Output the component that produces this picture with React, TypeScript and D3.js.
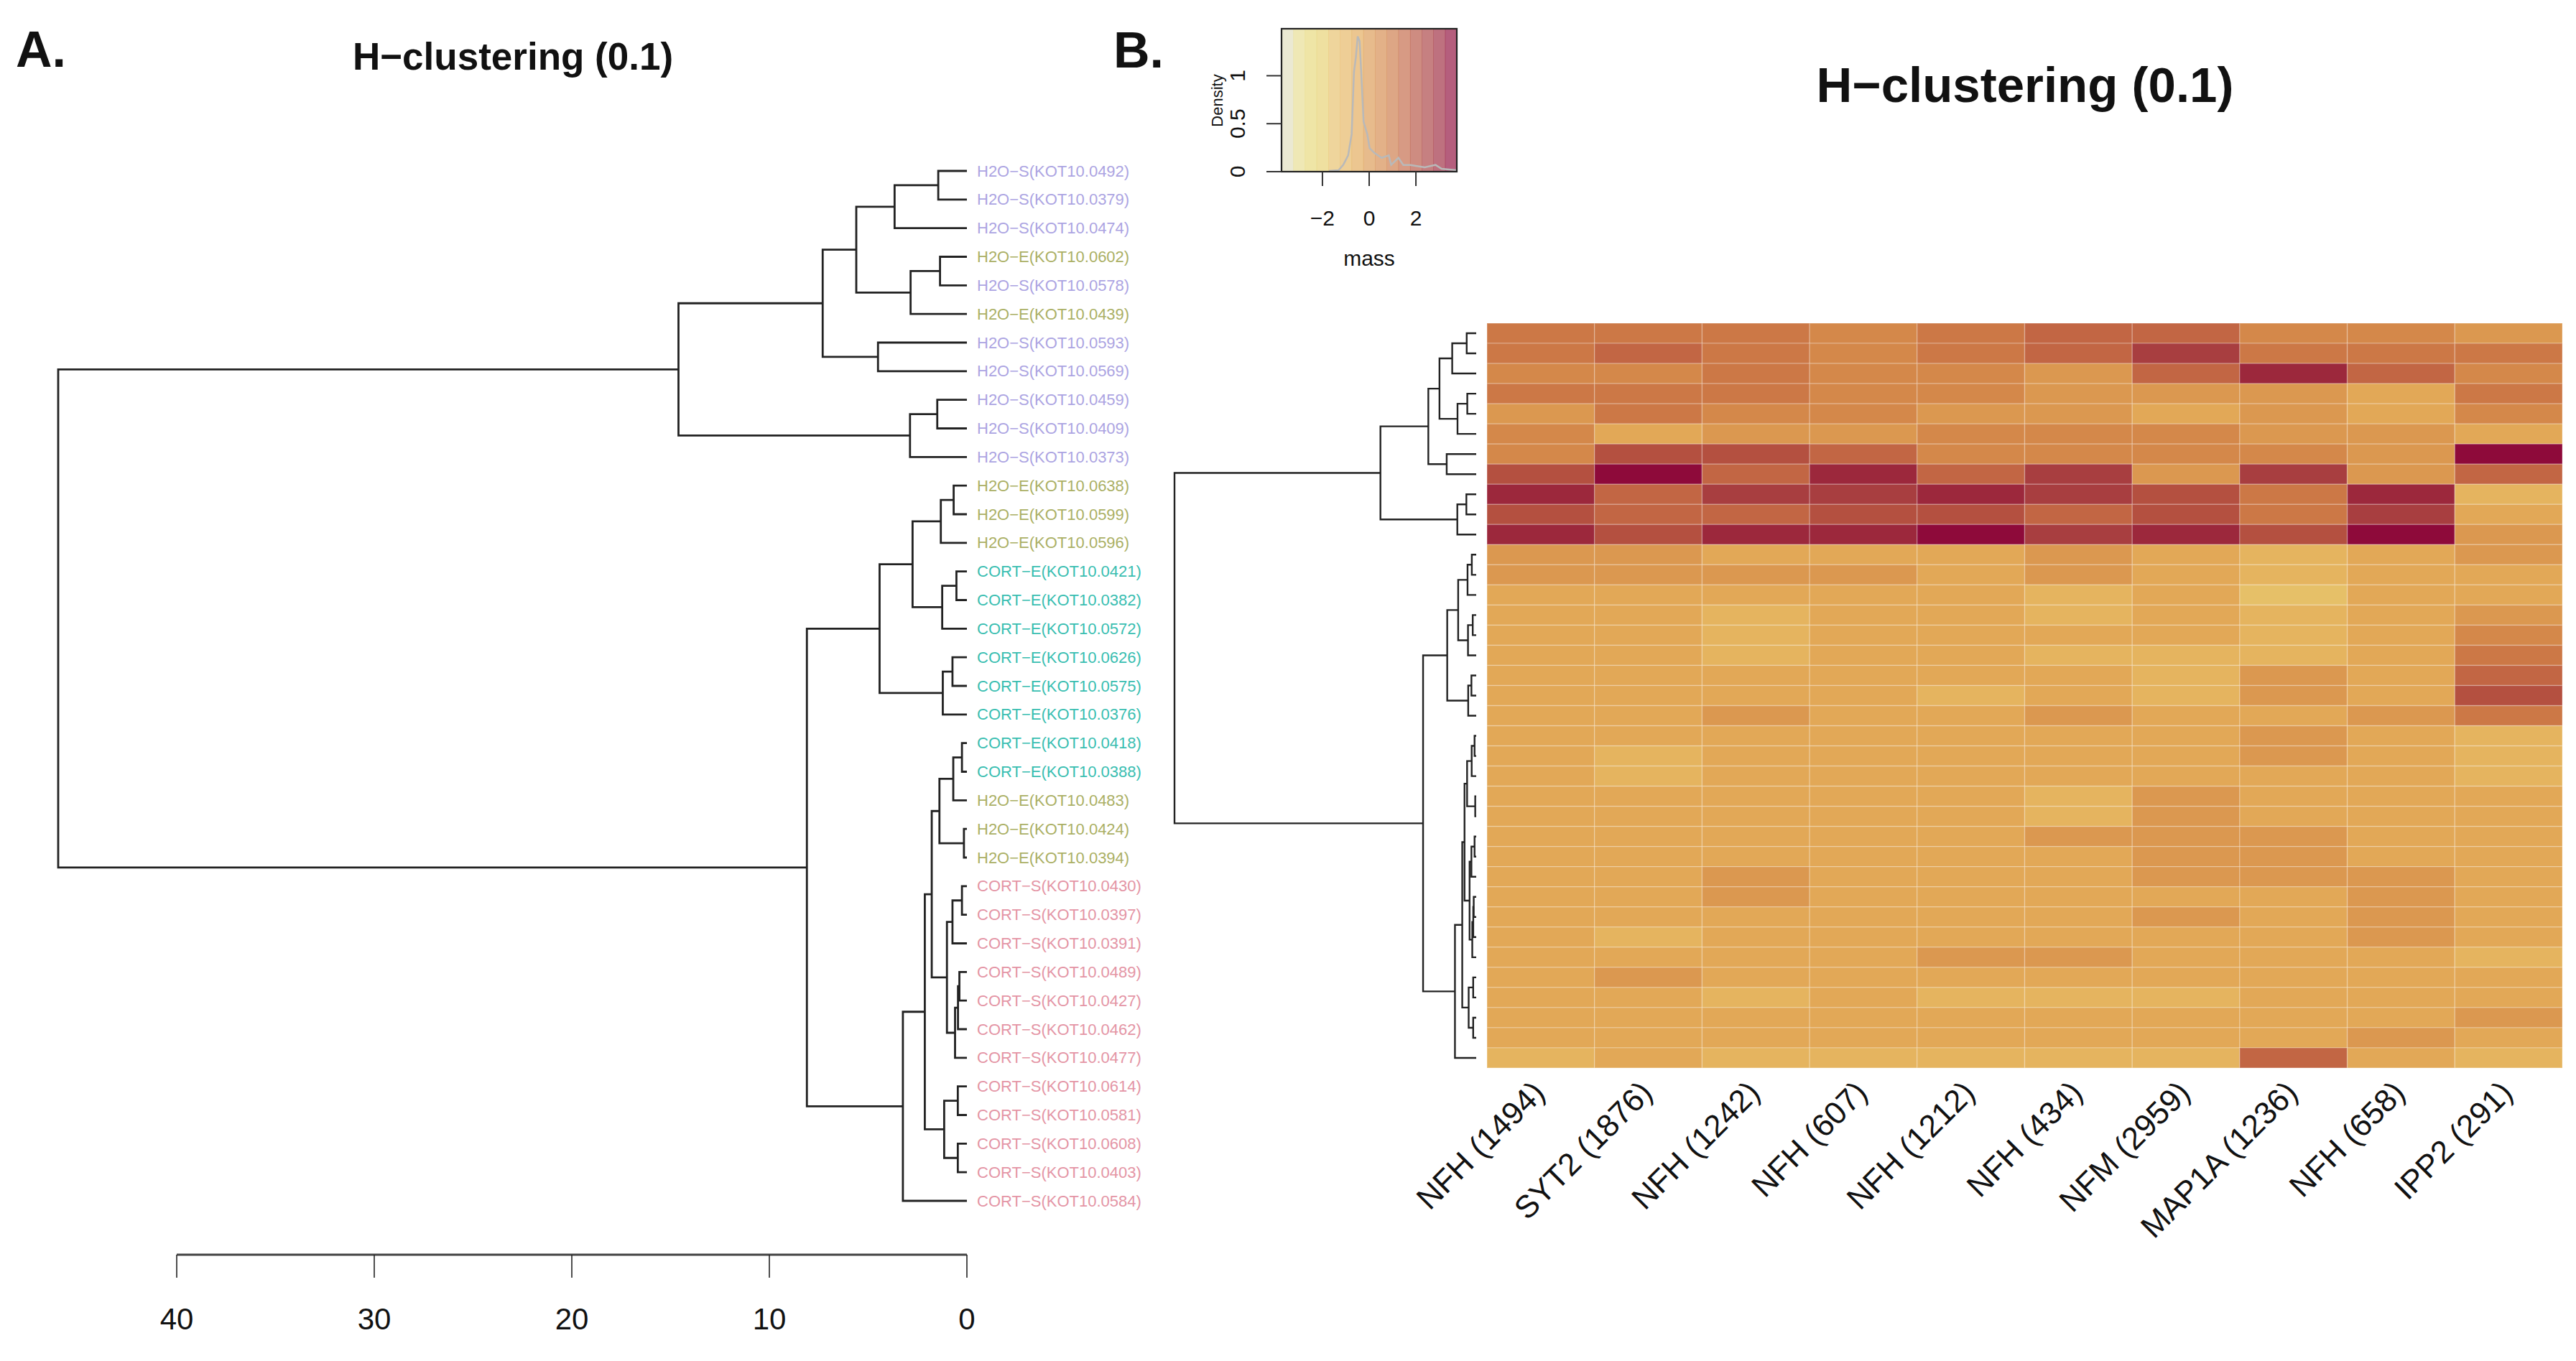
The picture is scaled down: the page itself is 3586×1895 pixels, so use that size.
import React from "react";
import * as d3 from "d3";

const W = 3586;
const H = 1895;
const FONT = "'Liberation Sans', Arial, Helvetica, sans-serif";

// ---------- Panel A : sample dendrogram ----------
const leafLabels = [
  "H2O−S(KOT10.0492)", "H2O−S(KOT10.0379)", "H2O−S(KOT10.0474)", "H2O−E(KOT10.0602)",
  "H2O−S(KOT10.0578)", "H2O−E(KOT10.0439)", "H2O−S(KOT10.0593)", "H2O−S(KOT10.0569)",
  "H2O−S(KOT10.0459)", "H2O−S(KOT10.0409)", "H2O−S(KOT10.0373)", "H2O−E(KOT10.0638)",
  "H2O−E(KOT10.0599)", "H2O−E(KOT10.0596)", "CORT−E(KOT10.0421)", "CORT−E(KOT10.0382)",
  "CORT−E(KOT10.0572)", "CORT−E(KOT10.0626)", "CORT−E(KOT10.0575)", "CORT−E(KOT10.0376)",
  "CORT−E(KOT10.0418)", "CORT−E(KOT10.0388)", "H2O−E(KOT10.0483)", "H2O−E(KOT10.0424)",
  "H2O−E(KOT10.0394)", "CORT−S(KOT10.0430)", "CORT−S(KOT10.0397)", "CORT−S(KOT10.0391)",
  "CORT−S(KOT10.0489)", "CORT−S(KOT10.0427)", "CORT−S(KOT10.0462)", "CORT−S(KOT10.0477)",
  "CORT−S(KOT10.0614)", "CORT−S(KOT10.0581)", "CORT−S(KOT10.0608)", "CORT−S(KOT10.0403)",
  "CORT−S(KOT10.0584)",
];

const groupNames = ["CORT−S", "H2O−E", "CORT−E", "H2O−S"];
const groupColors = ["#E495A5", "#ABB065", "#39BEB1", "#ACA4E2"];

// hclust-style merges: negative = leaf (1-based, in plotted order), positive = earlier merge
const merges: [number, number, number][] = [
  [-1, -2, 1.45], [1, -3, 3.66], [-4, -5, 1.36], [3, -6, 2.85], [2, 4, 5.6],
  [-7, -8, 4.5], [5, 6, 7.3], [-9, -10, 1.5], [8, -11, 2.88], [7, 9, 14.6],
  [-12, -13, 0.67], [11, -14, 1.32], [-15, -16, 0.53], [13, -17, 1.25], [12, 14, 2.75],
  [-18, -19, 0.73], [16, -20, 1.22], [15, 17, 4.42], [-21, -22, 0.25], [19, -23, 0.69],
  [-24, -25, 0.15], [20, 21, 1.39], [-26, -27, 0.25], [23, -28, 0.73], [-29, -30, 0.38],
  [25, -31, 0.45], [26, -32, 0.6], [24, 27, 1.01], [22, 28, 1.78], [-33, -34, 0.46],
  [-35, -36, 0.46], [30, 31, 1.15], [29, 32, 2.13], [33, -37, 3.24], [18, 34, 8.1],
  [10, 35, 46.0],
];

const distTicks = [40, 30, 20, 10, 0];

// ---------- Panel B : heatmap ----------
const geneLabels = [
  "NFH (1494)", "SYT2 (1876)", "NFH (1242)", "NFH (607)", "NFH (1212)",
  "NFH (434)", "NFM (2959)", "MAP1A (1236)", "NFH (658)", "IPP2 (291)",
];

const heatRows: number[][] = [
  [1.0, 1.0, 1.0, 0.5, 1.0, 1.5, 1.5, 0.5, 0.5, 0.0],
  [1.0, 1.5, 1.0, 0.5, 1.0, 1.5, 2.5, 1.0, 1.0, 1.0],
  [0.5, 0.5, 1.0, 0.5, 0.5, 0.0, 1.5, 3.0, 1.5, 0.5],
  [1.0, 1.0, 1.0, 0.5, 0.5, 0.0, 0.0, 0.0, -0.5, 1.0],
  [0.0, 1.0, 0.5, 0.5, 0.0, 0.0, -0.5, 0.0, -0.5, 0.5],
  [0.5, -0.5, 0.0, 0.0, 0.5, 0.5, 0.5, 0.0, 0.0, -0.5],
  [0.5, 2.0, 2.0, 1.5, 0.5, 0.5, 0.5, 0.5, 0.0, 3.5],
  [2.0, 3.5, 1.5, 3.0, 1.5, 2.5, 0.0, 2.5, 0.0, 1.5],
  [3.0, 1.5, 2.5, 2.5, 3.0, 2.5, 2.0, 1.0, 3.0, -1.0],
  [2.0, 1.5, 1.5, 2.0, 2.0, 1.5, 2.0, 1.0, 2.5, -0.5],
  [3.0, 2.0, 3.0, 3.0, 3.5, 2.5, 3.0, 2.0, 3.5, 0.0],
  [0.0, 0.0, -0.5, -0.5, -0.5, 0.0, -0.5, -1.0, -0.5, 0.0],
  [0.0, 0.0, 0.0, 0.0, -0.5, 0.0, -0.5, -1.0, -0.5, -0.5],
  [-0.5, -0.5, -0.5, -0.5, -0.5, -1.0, -0.5, -1.5, -0.5, -0.5],
  [-0.5, -0.5, -1.0, -0.5, -0.5, -1.0, -0.5, -1.0, -0.5, 0.0],
  [-0.5, -0.5, -1.0, -0.5, -0.5, -0.5, -0.5, -1.0, -0.5, 0.5],
  [-0.5, -0.5, -1.0, -0.5, -0.5, -1.0, -1.0, -1.0, -0.5, 1.0],
  [-0.5, -0.5, -0.5, -0.5, -0.5, -0.5, -1.0, 0.0, -0.5, 1.5],
  [-0.5, -0.5, -0.5, -0.5, -1.0, -0.5, -1.0, 0.0, -0.5, 2.0],
  [-0.5, -0.5, 0.0, -0.5, -0.5, 0.0, -0.5, -0.5, 0.0, 1.0],
  [-0.5, -0.5, -0.5, -0.5, -0.5, -0.5, -0.5, 0.0, -0.5, -1.0],
  [-0.5, -1.0, -0.5, -0.5, -0.5, -0.5, -0.5, 0.0, -0.5, -1.0],
  [-0.5, -1.0, -0.5, -0.5, -0.5, -0.5, -0.5, -0.5, -0.5, -1.0],
  [-0.5, -0.5, -0.5, -0.5, -0.5, -1.0, 0.0, -0.5, -0.5, -0.5],
  [-0.5, -0.5, -0.5, -0.5, -0.5, -1.0, 0.0, -0.5, -0.5, -0.5],
  [-0.5, -0.5, -0.5, -0.5, -0.5, 0.0, 0.0, 0.0, -0.5, -0.5],
  [-0.5, -0.5, -0.5, -0.5, -0.5, -0.5, 0.0, 0.0, -0.5, -0.5],
  [-0.5, -0.5, 0.0, -0.5, -0.5, -0.5, 0.0, 0.0, 0.0, -0.5],
  [-0.5, -0.5, 0.0, -0.5, -0.5, -0.5, -0.5, -0.5, 0.0, -0.5],
  [-0.5, -0.5, -0.5, -0.5, -0.5, -0.5, 0.0, -0.5, 0.0, -0.5],
  [-0.5, -1.0, -0.5, -0.5, -0.5, -0.5, -0.5, -0.5, 0.0, -0.5],
  [-0.5, -0.5, -0.5, -0.5, 0.0, 0.0, -0.5, -0.5, -0.5, -1.0],
  [-0.5, 0.0, -0.5, -0.5, -0.5, -0.5, -0.5, -0.5, -0.5, -0.5],
  [-0.5, -0.5, -1.0, -0.5, -1.0, -1.0, -1.0, -0.5, -0.5, -0.5],
  [-0.5, -0.5, -0.5, -0.5, -0.5, -0.5, -0.5, -0.5, -0.5, 0.0],
  [-0.5, -0.5, -0.5, -0.5, -0.5, -0.5, -0.5, -0.5, 0.0, -0.5],
  [-1.0, -0.5, -1.0, -1.0, -1.0, -1.0, -1.0, 1.5, -0.5, -1.0],
];

const heatPalette = [
  "#e1debc", "#e7dc8f", "#e7d878", "#e7d06f", "#e6c068", "#e5b45f", "#e2a857", "#db9850",
  "#d4884a", "#cc7846", "#c26644", "#b45040", "#a83e40", "#9c283c", "#8e0a3a",
];
const keyDomain: [number, number] = [-3.75, 3.75];
const keyXTicks = [-2, 0, 2];
const keyYTicks = [0, 0.5, 1];
const densityX = [-1.72, -1.31, -1.11, -0.9, -0.75, -0.65, -0.57, -0.49, -0.41, -0.34, -0.24, -0.08, 0.02, 0.23, 0.53, 0.84, 0.94, 1.25, 1.46, 1.76, 2.38, 2.84, 3.1, 3.74];
const densityY = [0.007, 0.015, 0.07, 0.17, 0.39, 1.04, 1.19, 1.41, 1.36, 1.04, 0.52, 0.39, 0.245, 0.194, 0.144, 0.17, 0.07, 0.144, 0.07, 0.07, 0.045, 0.07, 0.03, 0.015];

type End = { p: number; h: number };
function buildTree(ms: [number, number, number][]) {
  const pos: number[] = [];
  const hgt: number[] = [];
  const segs: { a: End; b: End; h: number }[] = [];
  const get = (c: number): End => (c < 0 ? { p: -c - 1, h: 0 } : { p: pos[c - 1], h: hgt[c - 1] });
  ms.forEach(([a, b, h], k) => {
    const A = get(a);
    const B = get(b);
    pos[k] = (A.p + B.p) / 2;
    hgt[k] = h;
    segs.push({ a: A, b: B, h });
  });
  return segs;
}

export default function App() {
  const segs = buildTree(merges);
  const n = leafLabels.length;

  // panel A scales
  const xA = d3.scaleLinear().domain([0, 40]).range([1346, 246]);
  const yA = d3.scaleLinear().domain([0, n - 1]).range([238, 1672]);
  const groupColor = d3.scaleOrdinal<string, string>().domain(groupNames).range(groupColors);

  // panel B scales
  const xH = d3.scaleBand<number>().domain(d3.range(geneLabels.length)).range([2070, 3567]);
  const yH = d3.scaleBand<number>().domain(d3.range(heatRows.length)).range([450, 1487]);
  const xD = d3.scaleLinear().domain([0, 46]).range([2055, 1635]);
  const yD = (p: number) => (yH(0) as number) + yH.bandwidth() * (p + 0.5);
  const color = d3.scaleQuantize<string>().domain(keyDomain).range(heatPalette);

  // key scales
  const kx = d3.scaleLinear().domain(keyDomain).range([1784, 2028]);
  const ky = d3.scaleLinear().domain([0, 1.49]).range([239, 40]);
  const binW = (keyDomain[1] - keyDomain[0]) / heatPalette.length;
  const densLine = d3
    .line<number>()
    .x((_, i) => kx(densityX[i]))
    .y((d) => ky(d));

  const treePath = (s: { a: End; b: End; h: number }, xs: (v: number) => number, ys: (v: number) => number) =>
    `M${xs(s.a.h)},${ys(s.a.p)}H${xs(s.h)}V${ys(s.b.p)}H${xs(s.b.h)}`;

  return (
    <svg
      width={W}
      height={H}
      viewBox={`0 0 ${W} ${H}`}
      style={{ position: "absolute", left: 0, top: 0, background: "#fff" }}
      fontFamily={FONT}
    >
      <rect x={0} y={0} width={W} height={H} fill="#fff" />

      {/* ---------- Panel A ---------- */}
      <text x={22} y={93} fontSize={70} fontWeight="bold" fill="#111">A.</text>
      <text x={714} y={97} fontSize={53} fontWeight="bold" textAnchor="middle" fill="#111">
        H−clustering (0.1)
      </text>
      <g fill="none" stroke="#222" strokeWidth={2.8}>
        {segs.map((s, i) => (
          <path key={i} d={treePath(s, xA, yA)} />
        ))}
      </g>
      <g fontSize={22}>
        {leafLabels.map((lab, i) => (
          <text
            key={i}
            x={1360}
            y={yA(i)}
            dominantBaseline="central"
            fill={groupColor(lab.split("(")[0])}
          >
            {lab}
          </text>
        ))}
      </g>
      <g>
        <line x1={xA(40)} x2={xA(0)} y1={1747} y2={1747} stroke="#444" strokeWidth={3} />
        {distTicks.map((t) => (
          <g key={t}>
            <line x1={xA(t)} x2={xA(t)} y1={1747} y2={1779} stroke="#222" strokeWidth={1.6} />
            <text x={xA(t)} y={1851} fontSize={42} textAnchor="middle" fill="#111">
              {t}
            </text>
          </g>
        ))}
      </g>

      {/* ---------- Panel B ---------- */}
      <text x={1550} y={94} fontSize={70} fontWeight="bold" fill="#111">B.</text>
      <text x={2819} y={142} fontSize={69} fontWeight="bold" textAnchor="middle" fill="#111">
        H−clustering (0.1)
      </text>

      {/* colour key */}
      <g>
        {heatPalette.map((c, i) => (
          <rect
            key={i}
            x={kx(keyDomain[0] + i * binW)}
            y={ky(1.49)}
            width={kx(keyDomain[0] + (i + 1) * binW) - kx(keyDomain[0] + i * binW) + 0.5}
            height={ky(0) - ky(1.49)}
            fill={c}
            fillOpacity={0.66}
          />
        ))}
        <path d={densLine(densityY) || ""} fill="none" stroke="#b9b9b9" strokeWidth={2.5} />
        <rect
          x={kx(keyDomain[0])}
          y={ky(1.49)}
          width={kx(keyDomain[1]) - kx(keyDomain[0])}
          height={ky(0) - ky(1.49)}
          fill="none"
          stroke="#222"
          strokeWidth={2.2}
        />
        {keyXTicks.map((t) => (
          <g key={t}>
            <line x1={kx(t)} x2={kx(t)} y1={ky(0)} y2={ky(0) + 20} stroke="#333" strokeWidth={2} />
            <text x={kx(t)} y={314} fontSize={30} textAnchor="middle" fill="#111">
              {t < 0 ? `−${Math.abs(t)}` : t}
            </text>
          </g>
        ))}
        {keyYTicks.map((t) => (
          <g key={t}>
            <line x1={kx(keyDomain[0]) - 21} x2={kx(keyDomain[0])} y1={ky(t)} y2={ky(t)} stroke="#333" strokeWidth={2} />
            <text
              transform={`translate(${1733},${ky(t)}) rotate(-90)`}
              fontSize={30}
              textAnchor="middle"
              fill="#111"
            >
              {t}
            </text>
          </g>
        ))}
        <text x={1906} y={370} fontSize={30} textAnchor="middle" fill="#111">mass</text>
        <text transform={`translate(1702,140) rotate(-90)`} fontSize={22} textAnchor="middle" fill="#111">
          Density
        </text>
      </g>

      {/* row dendrogram */}
      <g fill="none" stroke="#222" strokeWidth={2.4}>
        {segs.map((s, i) => (
          <path key={i} d={treePath(s, xD, yD)} />
        ))}
      </g>

      {/* heatmap cells */}
      <g>
        {heatRows.map((row, r) =>
          row.map((v, c) => (
            <rect
              key={`${r}-${c}`}
              x={xH(c)}
              y={yH(r)}
              width={xH.bandwidth()}
              height={yH.bandwidth()}
              fill={color(v)}
              stroke="#ffffff"
              strokeOpacity={0.22}
              strokeWidth={1.5}
            />
          ))
        )}
      </g>

      {/* column labels */}
      <g fontSize={44} fill="#111">
        {geneLabels.map((g, i) => (
          <text
            key={i}
            transform={`translate(${(xH(i) as number) + xH.bandwidth() / 2 + 8},${1524}) rotate(-45)`}
            textAnchor="end"
          >
            {g}
          </text>
        ))}
      </g>
    </svg>
  );
}
